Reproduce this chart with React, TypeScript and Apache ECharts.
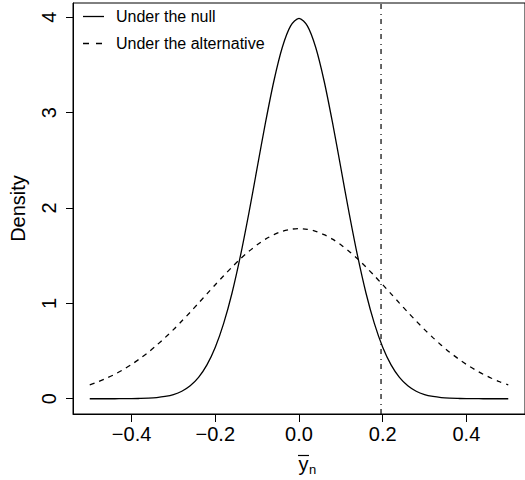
import React, { useEffect, useRef } from "react";
import * as echarts from "echarts";

const xs = [
  -0.5, -0.48, -0.46, -0.44, -0.42, -0.4, -0.38, -0.36, -0.34, -0.32, -0.3, -0.28, -0.26,
  -0.24, -0.22, -0.2, -0.18, -0.16, -0.14, -0.12, -0.1, -0.08, -0.06, -0.04, -0.02, 0,
  0.02, 0.04, 0.06, 0.08, 0.1, 0.12, 0.14, 0.16, 0.18, 0.2, 0.22, 0.24, 0.26, 0.28, 0.3,
  0.32, 0.34, 0.36, 0.38, 0.4, 0.42, 0.44, 0.46, 0.48, 0.5,
];

const nullDensity = [
  0.0, 0.0, 0.0, 0.0, 0.001, 0.001, 0.003, 0.006, 0.012, 0.024, 0.044, 0.079, 0.136,
  0.224, 0.355, 0.54, 0.79, 1.109, 1.497, 1.942, 2.42, 2.897, 3.332, 3.683, 3.91, 3.989,
  3.91, 3.683, 3.332, 2.897, 2.42, 1.942, 1.497, 1.109, 0.79, 0.54, 0.355, 0.224, 0.136,
  0.079, 0.044, 0.024, 0.012, 0.006, 0.003, 0.001, 0.001, 0.0, 0.0, 0.0, 0.0,
];

const altDensity = [
  0.146, 0.178, 0.215, 0.257, 0.306, 0.36, 0.421, 0.488, 0.562, 0.641, 0.725, 0.815, 0.907,
  1.003, 1.1, 1.196, 1.29, 1.381, 1.467, 1.545, 1.614, 1.674, 1.721, 1.756, 1.777, 1.784,
  1.777, 1.756, 1.721, 1.674, 1.614, 1.545, 1.467, 1.381, 1.29, 1.196, 1.1, 1.003, 0.907,
  0.815, 0.725, 0.641, 0.562, 0.488, 0.421, 0.36, 0.306, 0.257, 0.215, 0.178, 0.146,
];

const criticalValue = 0.196;
const xTicks = [-0.4, -0.2, 0, 0.2, 0.4];
const yTicks = [0, 1, 2, 3, 4];
const seriesNames = ["Under the null", "Under the alternative"];

const FONT = "Liberation Sans, Arial, Helvetica, sans-serif";
const DASH = [5, 5];

export default function App() {
  const ref = useRef<HTMLDivElement>(null);

  useEffect(() => {
    const chart = echarts.init(ref.current!, null, { renderer: "svg" });
    const yMin = -0.16;
    const yMax = 4.15;
    chart.setOption({
      animation: false,
      backgroundColor: "#ffffff",
      grid: {
        left: 72,
        top: 3,
        width: 456,
        height: 411,
        show: true,
        borderColor: "#000",
        borderWidth: 1,
      },
      xAxis: {
        type: "value",
        min: -0.54,
        max: 0.54,
        splitLine: { show: false },
        axisLine: { show: true, onZero: false, lineStyle: { color: "#000", width: 1 } },
        axisTick: {
          show: true,
          customValues: xTicks,
          length: 8,
          inside: false,
          lineStyle: { color: "#000", width: 1 },
        },
        axisLabel: {
          customValues: xTicks,
          formatter: (v: number) => v.toFixed(1).replace("-", "\u2212"),
          fontSize: 20,
          color: "#000",
          fontFamily: FONT,
          margin: 10,
        },
      },
      yAxis: {
        type: "value",
        min: yMin,
        max: yMax,
        name: "Density",
        nameLocation: "middle",
        nameGap: 45,
        nameTextStyle: { fontSize: 20, color: "#000", fontFamily: FONT },
        splitLine: { show: false },
        axisLine: { show: true, onZero: false, lineStyle: { color: "#000", width: 1 } },
        axisTick: {
          show: true,
          customValues: yTicks,
          length: 7,
          inside: false,
          lineStyle: { color: "#000", width: 1 },
        },
        axisLabel: {
          customValues: yTicks,
          formatter: (v: number) => String(v),
          rotate: 90,
          fontSize: 20,
          color: "#000",
          fontFamily: FONT,
          margin: 14,
        },
      },
      graphic: [
        {
          type: "line",
          shape: { x1: 83, y1: 16.5, x2: 104, y2: 16.5 },
          style: { stroke: "#000", lineWidth: 1.3 },
        },
        {
          type: "text",
          x: 116,
          y: 16.5,
          style: {
            text: seriesNames[0],
            fontSize: 16,
            fontFamily: FONT,
            fill: "#000",
            align: "left",
            verticalAlign: "middle",
          },
        },
        {
          type: "line",
          shape: { x1: 83, y1: 43.5, x2: 104, y2: 43.5 },
          style: { stroke: "#000", lineWidth: 1.3, lineDash: [6, 7] },
        },
        {
          type: "text",
          x: 116,
          y: 43.5,
          style: {
            text: seriesNames[1],
            fontSize: 16,
            fontFamily: FONT,
            fill: "#000",
            align: "left",
            verticalAlign: "middle",
          },
        },
        {
          type: "text",
          x: 303.5,
          y: 463.5,
          style: {
            text: "y",
            fontSize: 20,
            fontFamily: FONT,
            fill: "#000",
            align: "center",
            verticalAlign: "middle",
          },
        },
        {
          type: "line",
          shape: { x1: 298, y1: 455.5, x2: 309, y2: 455.5 },
          style: { stroke: "#000", lineWidth: 1.2 },
        },
        {
          type: "text",
          x: 309,
          y: 469.5,
          style: {
            text: "n",
            fontSize: 13,
            fontFamily: FONT,
            fill: "#000",
            align: "left",
            verticalAlign: "middle",
          },
        },
      ],
      series: [
        {
          name: seriesNames[0],
          type: "line",
          data: xs.map((x, i) => [x, nullDensity[i]]),
          symbol: "none",
          smooth: 0.3,
          lineStyle: { color: "#000", width: 1.3, type: "solid" },
          itemStyle: { color: "#000" },
        },
        {
          name: seriesNames[1],
          type: "line",
          data: xs.map((x, i) => [x, altDensity[i]]),
          symbol: "none",
          smooth: 0.3,
          lineStyle: { color: "#000", width: 1.3, type: DASH },
          itemStyle: { color: "#000" },
        },
        {
          name: "critical",
          type: "line",
          data: [
            [criticalValue, yMin],
            [criticalValue, yMax],
          ],
          symbol: "none",
          lineStyle: { color: "#000", width: 1.2, type: [5, 4, 1, 5] },
        },
      ],
    });
    return () => chart.dispose();
  }, []);

  return (
    <div
      ref={ref}
      style={{ position: "fixed", left: 0, top: 0, width: 525, height: 480, background: "#fff" }}
    />
  );
}
